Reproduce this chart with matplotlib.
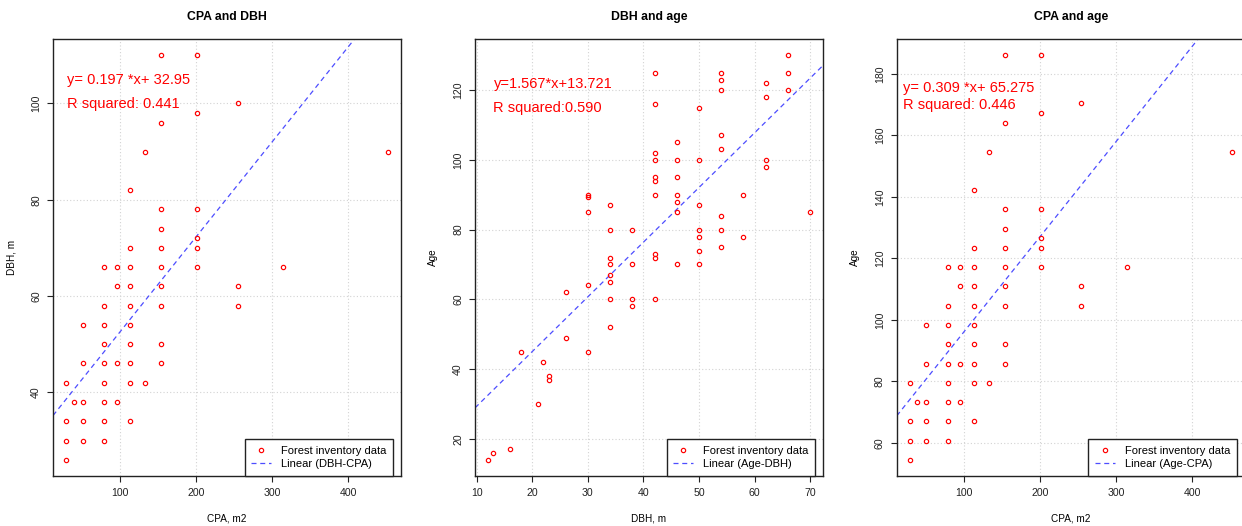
import matplotlib.pyplot as plt
from matplotlib.ticker import MultipleLocator

plt.rcParams['font.family'] = ['Liberation Sans', 'DejaVu Sans']

# crown projection area (m2), DBH and age of the same trees (panels 1 and 3)
cpa = [153.9, 201.1, 254.5, 201.1, 153.9, 132.7, 452.4, 113.1, 153.9, 201.1,
       153.9, 201.1, 113.1, 153.9, 201.1, 78.5, 95.0, 113.1, 153.9, 201.1,
       314.2, 95.0, 113.1, 153.9, 254.5, 78.5, 113.1, 153.9, 254.5, 50.3,
       78.5, 113.1, 78.5, 113.1, 153.9, 50.3, 78.5, 95.0, 113.1, 153.9,
       28.3, 78.5, 113.1, 132.7, 38.5, 50.3, 78.5, 95.0, 28.3, 50.3,
       78.5, 113.1, 28.3, 50.3, 78.5, 28.3]
dbh_cpa = [110, 110, 100, 98, 96, 90, 90, 82, 78, 78,
           74, 72, 70, 70, 70, 66, 66, 66, 66, 66,
           66, 62, 62, 62, 62, 58, 58, 58, 58, 54,
           54, 54, 50, 50, 50, 46, 46, 46, 46, 46,
           42, 42, 42, 42, 38, 38, 38, 38, 34, 34,
           34, 34, 30, 30, 30, 26]
age_cpa = [186.1, 186.1, 170.4, 167.3, 164.2, 154.7, 154.7, 142.2, 136.0, 136.0,
           129.7, 126.5, 123.4, 123.4, 123.4, 117.1, 117.1, 117.1, 117.1, 117.1,
           117.1, 110.9, 110.9, 110.9, 110.9, 104.6, 104.6, 104.6, 104.6, 98.3,
           98.3, 98.3, 92.1, 92.1, 92.1, 85.8, 85.8, 85.8, 85.8, 85.8,
           79.5, 79.5, 79.5, 79.5, 73.3, 73.3, 73.3, 73.3, 67.0, 67.0,
           67.0, 67.0, 60.7, 60.7, 60.7, 54.5]

# inventory data for DBH vs age (panel 2)
dbh = [12, 13, 16, 18, 21, 22, 23, 23, 26, 26,
       30, 30, 30, 30, 30, 34, 34, 34, 34, 34, 34, 34, 34,
       38, 38, 38, 38,
       42, 42, 42, 42, 42, 42, 42, 42, 42, 42,
       46, 46, 46, 46, 46, 46, 46,
       50, 50, 50, 50, 50, 50, 50,
       54, 54, 54, 54, 54, 54, 54, 54,
       58, 58, 62, 62, 62, 62, 66, 66, 66, 70]
age = [14, 16, 17, 45, 30, 42, 38, 37, 62, 49,
       90, 89.4, 85, 64, 45, 87, 80, 72, 70, 67, 65, 60, 52,
       80, 70, 60, 58,
       125, 116, 102, 100, 95, 94, 90, 73, 72, 60,
       105, 100, 95, 90, 88, 85, 70,
       115, 100, 87, 80, 78, 74, 70,
       125, 123, 120, 107, 103, 84, 80, 75,
       90, 78, 122, 118, 100, 98, 130, 125, 120, 85]

panels = [
    dict(x=cpa, y=dbh_cpa, title='CPA and DBH', xlab='CPA, m2', ylab='DBH, m',
         slope=0.197, icpt=32.95, eq='y= 0.197 *x+ 32.95', r2='R squared: 0.441',
         leg='Linear (DBH-CPA)', xt=100, yt=20, left=53,
         txt=(0.039, 0.906, 0.851)),
    dict(x=dbh, y=age, title='DBH and age', xlab='DBH, m', ylab='Age',
         slope=1.567, icpt=13.721, eq='y=1.567*x+13.721', r2='R squared:0.590',
         leg='Linear (Age-DBH)', xt=10, yt=20, left=475,
         txt=(0.053, 0.898, 0.841)),
    dict(x=cpa, y=age_cpa, title='CPA and age', xlab='CPA, m2', ylab='Age',
         slope=0.309, icpt=65.275, eq='y= 0.309 *x+ 65.275', r2='R squared: 0.446',
         leg='Linear (Age-CPA)', xt=100, yt=20, left=896.7,
         txt=(0.017, 0.889, 0.848)),
]


def r_range(v):
    # R-style axis range: data range plus 4% at each end
    lo, hi = min(v), max(v)
    d = (hi - lo) * 0.04
    return lo - d, hi + d


W, H = 1242, 526
fig = plt.figure(figsize=(W / 100, H / 100), dpi=100)

for p in panels:
    ax = fig.add_axes([p['left'] / W, 50 / H, 348 / W, 437 / H])
    ax.plot(p['x'], p['y'], 'o', mfc='none', mec='red', ms=3.1, mew=0.85,
            label='Forest inventory data', zorder=3)
    ax.axline((0, p['icpt']), slope=p['slope'], color='#4d4dff', lw=0.9,
              ls=(0, (4, 3)), label=p['leg'], zorder=2)
    ax.set_xlim(*r_range(p['x']))
    ax.set_ylim(*r_range(p['y']))
    ax.xaxis.set_major_locator(MultipleLocator(p['xt']))
    ax.yaxis.set_major_locator(MultipleLocator(p['yt']))
    ax.grid(True, color='#d3d3d3', ls=(0, (1, 2)), lw=0.8, zorder=0)
    ax.set_axisbelow(True)
    for s in ax.spines.values():
        s.set_color('#222222')
        s.set_linewidth(1.0)
    ax.tick_params(direction='out', length=4.5, width=0.8, colors='#222222',
                   labelsize=7.6, pad=4)
    for lab in ax.get_yticklabels():
        lab.set_rotation(90)
        lab.set_va('center')
    ax.set_title(p['title'], fontsize=8.8, fontweight='bold', pad=13.5)
    ax.set_xlabel(p['xlab'], fontsize=7.2)
    ax.set_ylabel(p['ylab'], fontsize=7.2)
    ax.xaxis.set_label_coords(0.5, -0.085)
    ax.yaxis.set_label_coords(-0.105, 0.5)

    tx, ty1, ty2 = p['txt']
    ax.text(tx, ty1, p['eq'], transform=ax.transAxes, color='red',
            fontsize=10.5, va='center', ha='left')
    ax.text(tx, ty2, p['r2'], transform=ax.transAxes, color='red',
            fontsize=10.5, va='center', ha='left')

    leg = ax.legend(loc='lower right', bbox_to_anchor=(0.978, 0.0),
                    borderaxespad=0, fontsize=8.0, fancybox=False,
                    framealpha=1, edgecolor='#222222', borderpad=0.6,
                    handlelength=1.8, handletextpad=0.9, labelspacing=0.3)
    leg.get_frame().set_linewidth(1.0)

fig.savefig('out.png', dpi=100)
